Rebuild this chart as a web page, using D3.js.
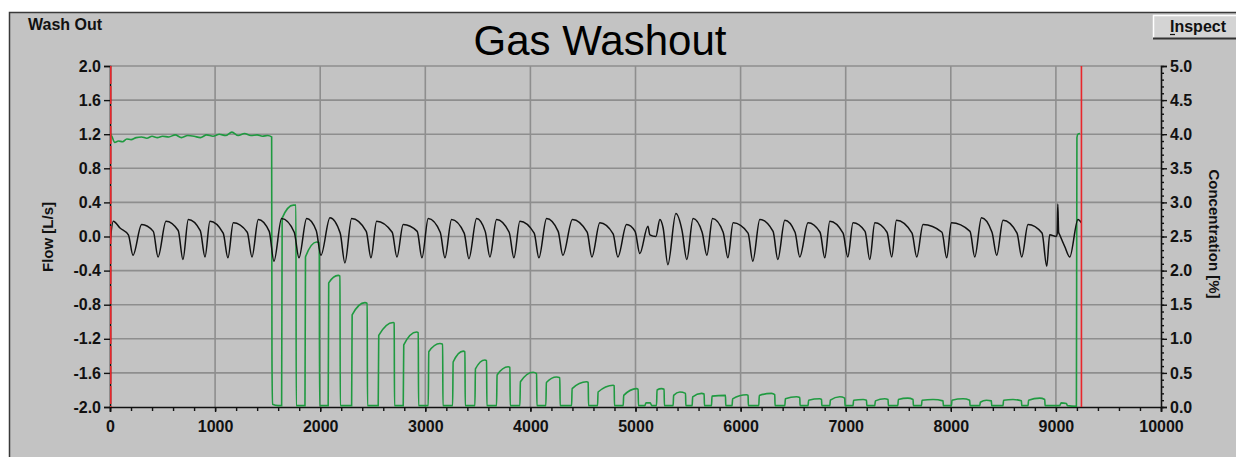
<!DOCTYPE html>
<html>
<head>
<meta charset="utf-8">
<script src="https://cdn.jsdelivr.net/npm/d3@7"></script>
<style>
  body { margin: 0; background: #ffffff; }
  svg { display: block; }
  text { font-family: "Liberation Sans", Arial, sans-serif; }
</style>
</head>
<body>
<svg id="chart" width="1236" height="457"></svg>
<script>
// flow trace (left axis, L/s): one entry per breath
var flowStart = [[0, -0.08], [31, 0.18], [95, 0.10], [175, 0.02]];
var troughT = [219, 457, 694, 904, 1122, 1351, 1560, 1798, 2007, 2235,
               2483, 2730, 2968, 3187, 3415, 3615, 3843, 4081, 4309, 4585,
               4832, 5041, 5308, 5488, 5679, 5879, 6116, 6354, 6563, 6801,
               7020, 7229, 7438, 7676, 7961, 8228, 8437, 8675, 8913, 9132];
var troughV = [-0.22, -0.24, -0.27, -0.24, -0.25, -0.24, -0.29, -0.25, -0.22, -0.31,
               -0.25, -0.24, -0.25, -0.25, -0.26, -0.24, -0.25, -0.25, -0.22, -0.24,
               -0.24, -0.20, -0.33, -0.27, -0.22, -0.25, -0.29, -0.27, -0.24, -0.25,
               -0.24, -0.27, -0.24, -0.24, -0.25, -0.24, -0.22, -0.24, -0.35, -0.24];
var peakT = [301, 533, 745, 951, 1173, 1411, 1633, 1871, 2093, 2299,
             2537, 2790, 3028, 3250, 3488, 3678, 3900, 4154, 4400, 4661,
             4915, 5118, 5384, 5548, 5733, 5929, 6183, 6421, 6642, 6849,
             7070, 7277, 7483, 7736, 8006, 8292, 8497, 8735, 8941, 9210];
var peakV = [0.14, 0.18, 0.20, 0.18, 0.16, 0.20, 0.21, 0.21, 0.22, 0.21,
             0.18, 0.14, 0.21, 0.20, 0.21, 0.20, 0.18, 0.21, 0.20, 0.16,
             0.14, 0.12, 0.27, 0.21, 0.21, 0.16, 0.20, 0.19, 0.16, 0.18,
             0.16, 0.16, 0.19, 0.14, 0.16, 0.22, 0.19, 0.14, 0.02, 0.20];
var kneeT = [412, 649, 859, 1077, 1306, 1515, 1753, 1962, 2190, 2438,
             2685, 2923, 3142, 3370, 3570, 3798, 4036, 4264, 4540, 4787,
             4996, 5263, 5443, 5634, 5834, 6071, 6309, 6518, 6756, 6975,
             7184, 7393, 7631, 7916, 8183, 8392, 8630, 8868, 9085, 9243];
var kneeV = [0.06, 0.07, 0.07, 0.04, 0.05, 0.06, 0.05, 0.07, 0.04, 0.06,
             0.05, 0.06, 0.05, 0.04, 0.06, 0.05, 0.04, 0.06, 0.05, 0.03,
             0.06, 0.10, 0.07, 0.05, 0.05, 0.04, 0.06, 0.05, 0.05, 0.04,
             0.06, 0.05, 0.04, 0.05, 0.06, 0.05, 0.04, 0.04, -0.12, 0.16];
var flowExtra = [[5137, 0.02], [5194, 0.00], [5232, 0.20],
                 [9004, 0.00], [9012, 0.03], [9018, 0.38], [9026, 0.05], [9036, 0.02]];

// concentration trace (right axis, %)
var concPlateau = [[0, 4.02], [20, 3.96], [45, 3.88], [80, 3.90], [120, 3.89], [160, 3.93],
                   [200, 3.92], [250, 3.95], [300, 3.96], [350, 3.94], [400, 3.97], [450, 3.95],
                   [500, 3.97], [560, 3.96], [620, 3.99], [680, 3.95], [740, 3.98], [800, 3.97],
                   [860, 3.95], [920, 3.99], [980, 3.97], [1040, 4.00], [1100, 3.98], [1160, 4.03],
                   [1220, 3.98], [1280, 4.01], [1340, 3.98], [1400, 3.99], [1450, 3.97], [1500, 3.98],
                   [1538, 3.96], [1541, 0.74], [1546, 0.04], [1600, 0.02]];
var concBase = 0.02;
var riseT = [1633, 1855, 2076, 2299, 2552, 2790, 3028, 3260, 3472, 3678,
             3900, 4147, 4392, 4639, 4883, 5200, 5358, 5539, 5723, 5919,
             6173, 6421, 6642, 6849, 7070, 7277, 7496, 7721, 8006, 8276, 8497, 8735];
var shoulderV = [2.77, 2.20, 1.82, 1.35, 1.05, 0.91, 0.81, 0.66, 0.56, 0.47,
                 0.37, 0.36, 0.27, 0.22, 0.17, 0.25, 0.17, 0.15, 0.16, 0.12,
                 0.17, 0.12, 0.10, 0.10, 0.10, 0.09, 0.11, 0.10, 0.10, 0.07, 0.10, 0.10];
var pulsePeakT = [1744, 1966, 2172, 2426, 2695, 2917, 3139, 3361, 3567, 3789,
                  4026, 4249, 4534, 4787, 5010, 5248, 5422, 5628, 5850, 6056,
                  6294, 6532, 6753, 6944, 7166, 7372, 7591, 7831, 8117, 8339, 8592, 8846];
var pulsePeakV = [2.96, 2.42, 1.93, 1.53, 1.24, 1.10, 0.93, 0.82, 0.69, 0.59,
                  0.51, 0.44, 0.37, 0.32, 0.27, 0.27, 0.22, 0.20, 0.17, 0.18,
                  0.20, 0.15, 0.12, 0.15, 0.11, 0.12, 0.13, 0.11, 0.12, 0.10, 0.11, 0.13];
var fallT = [1769, 1991, 2188, 2447, 2704, 2933, 3165, 3377, 3583, 3805,
             4059, 4280, 4550, 4797, 5025, 5272, 5476, 5653, 5856, 6071,
             6325, 6563, 6770, 6991, 7198, 7403, 7641, 7926, 8180, 8386, 8672, 8894];
var fallV = [2.96, 2.41, 1.92, 1.52, 1.23, 1.09, 0.92, 0.81, 0.68, 0.58,
             0.49, 0.43, 0.36, 0.31, 0.26, 0.26, 0.20, 0.19, 0.17, 0.17,
             0.18, 0.14, 0.11, 0.13, 0.10, 0.11, 0.11, 0.09, 0.10, 0.09, 0.09, 0.11];
var concExtra = [[5089, 0.02], [5100, 0.06], [5140, 0.06], [5155, 0.02],
                 [9036, 0.02], [9050, 0.06], [9100, 0.05], [9110, 0.02],
                 [9195, 0.01], [9200, 3.95], [9210, 4.00], [9229, 4.01]];

// markers and ticks
var markers = [0, 9243];
var xTicks = [0, 1000, 2000, 3000, 4000, 5000, 6000, 7000, 8000, 9000, 10000];
var flowTicks = [-2.0, -1.6, -1.2, -0.8, -0.4, 0.0, 0.4, 0.8, 1.2, 1.6, 2.0];
var concTicks = [0.0, 0.5, 1.0, 1.5, 2.0, 2.5, 3.0, 3.5, 4.0, 4.5, 5.0];

// build the point lists
var flowData = flowStart.slice();
troughT.forEach(function(t, i){
	flowData.push([t, troughV[i]]);
	flowData.push([peakT[i], peakV[i]]);
	flowData.push([kneeT[i], kneeV[i]]);
});
flowData = flowData.concat(flowExtra).sort(function(a, b){ return a[0] - b[0]; });

var concData = concPlateau.slice();
riseT.forEach(function(t, i){
	concData.push([t, concBase]);
	concData.push([t + 5, shoulderV[i]]);
	concData.push([pulsePeakT[i], pulsePeakV[i]]);
	concData.push([fallT[i], fallV[i]]);
	concData.push([fallT[i] + 3, concBase]);
});
concData = concData.concat(concExtra).sort(function(a, b){ return a[0] - b[0]; });

var svg = d3.select("#chart");
var plotLeft = 110, plotRight = 1161, plotTop = 66, plotBottom = 407;

var x = d3.scaleLinear().domain([0, 10000]).range([plotLeft, plotRight]);
var yFlow = d3.scaleLinear().domain([-2, 2]).range([plotBottom, plotTop]);
var yConc = d3.scaleLinear().domain([0, 5]).range([plotBottom, plotTop]);

// one decimal, plain hyphen for negatives
var fmt1 = d => d.toFixed(1);

// panel
svg.append("rect").attr("x", 9.5).attr("y", 12.5).attr("width", 1240).attr("height", 460)
	.style("fill", "#c3c3c3").style("stroke", "#3a3a3a").style("stroke-width", 1.5);

svg.append("text").attr("x", 28).attr("y", 30)
	.style("font-size", "16px").style("font-weight", "bold").style("fill", "#111")
	.text("Wash Out");

svg.append("text").attr("x", 600).attr("y", 55).attr("text-anchor", "middle")
	.style("font-size", "42px").style("fill", "#000")
	.text("Gas Washout");

// Inspect button
var btn = svg.append("g");
btn.append("rect").attr("x", 1153).attr("y", 15).attr("width", 90).attr("height", 24)
	.style("fill", "#d4d4d4");
btn.append("path").attr("d", "M1153.5,38.5 V15.5 H1243").style("fill", "none").style("stroke", "#ffffff").style("stroke-width", 1.5);
btn.append("path").attr("d", "M1153,38.5 H1243").style("fill", "none").style("stroke", "#333").style("stroke-width", 2);
btn.append("text").attr("x", 1198).attr("y", 32).attr("text-anchor", "middle")
	.style("font-size", "16px").style("font-weight", "bold").style("fill", "#111")
	.text("Inspect");
btn.append("line").attr("x1", 1170).attr("x2", 1175).attr("y1", 34.5).attr("y2", 34.5)
	.style("stroke", "#111").style("stroke-width", 1.2);

// grid
svg.append("g").selectAll("line").data(xTicks.slice(1, -1)).enter().append("line")
	.attr("x1", d => x(d)).attr("x2", d => x(d)).attr("y1", plotTop).attr("y2", plotBottom)
	.style("stroke", "#8e8e8e").style("stroke-width", 1.6);
svg.append("g").selectAll("line").data(flowTicks.slice(1)).enter().append("line")
	.attr("x1", plotLeft).attr("x2", plotRight).attr("y1", d => yFlow(d)).attr("y2", d => yFlow(d))
	.style("stroke", "#8e8e8e").style("stroke-width", 1.6);

// axes
var xAxis = svg.append("g").attr("transform", `translate(0, ${plotBottom})`)
	.call(d3.axisBottom(x).tickValues(xTicks).tickFormat(d3.format("d")).tickSize(5).tickPadding(9));
var xMinor = svg.append("g").attr("transform", `translate(0, ${plotBottom})`)
	.call(d3.axisBottom(x).tickValues(d3.range(0, 10001, 200)).tickFormat("").tickSize(4));
var yAxisL = svg.append("g").attr("transform", `translate(${plotLeft}, 0)`)
	.call(d3.axisLeft(yFlow).tickValues(flowTicks).tickFormat(fmt1).tickSize(6).tickPadding(3));
var yAxisR = svg.append("g").attr("transform", `translate(${plotRight}, 0)`)
	.call(d3.axisRight(yConc).tickValues(concTicks).tickFormat(fmt1).tickSize(6).tickPadding(3));
var yMinorR = svg.append("g").attr("transform", `translate(${plotRight}, 0)`)
	.call(d3.axisRight(yConc).tickValues(d3.range(0, 51).map(d => d / 10)).tickFormat("").tickSize(3));

[xAxis, xMinor, yAxisL, yAxisR, yMinorR].forEach(function(g){
	g.select(".domain").style("stroke", "#111").style("stroke-width", 1.6);
	g.selectAll(".tick line").style("stroke", "#111").style("stroke-width", 1.4);
	g.selectAll(".tick text").style("font-family", "'Liberation Sans', Arial, sans-serif")
		.style("font-size", "16px").style("font-weight", "bold").style("fill", "#111");
});
xMinor.select(".domain").remove();
yMinorR.select(".domain").remove();
yAxisR.selectAll(".tick text").attr("x", 9);

// axis titles
svg.append("text")
	.attr("transform", "translate(53, 237) rotate(-90)")
	.attr("text-anchor", "middle")
	.style("font-size", "15px").style("font-weight", "bold").style("fill", "#111")
	.text("Flow [L/s]");
svg.append("text")
	.attr("transform", "translate(1209, 234) rotate(90)")
	.attr("text-anchor", "middle")
	.style("font-size", "15px").style("font-weight", "bold").style("fill", "#111")
	.text("Concentration [%]");

// traces
svg.append("defs").append("clipPath").attr("id", "plot")
	.append("rect").attr("x", plotLeft).attr("y", plotTop - 1).attr("width", plotRight - plotLeft).attr("height", plotBottom - plotTop + 2);

var plot = svg.append("g").attr("clip-path", "url(#plot)");

plot.append("path").datum(concData)
	.attr("d", d3.line().x(d => x(d[0])).y(d => yConc(d[1])).curve(d3.curveMonotoneX))
	.style("fill", "none").style("stroke", "#1f9a40").style("stroke-width", 1.6);

plot.append("path").datum(flowData)
	.attr("d", d3.line().x(d => x(d[0])).y(d => yFlow(d[1])).curve(d3.curveMonotoneX))
	.style("fill", "none").style("stroke", "#111").style("stroke-width", 1.5);

// red cursor lines
svg.append("g").selectAll("line").data(markers).enter().append("line")
	.attr("x1", d => x(d) + (d === 0 ? 0.8 : 0)).attr("x2", d => x(d) + (d === 0 ? 0.8 : 0))
	.attr("y1", plotTop).attr("y2", plotBottom)
	.style("stroke", "#e8262b").style("stroke-width", 1.6)
	.style("stroke-dasharray", d => d === 0 ? "18,2" : null);
</script>
</body>
</html>
